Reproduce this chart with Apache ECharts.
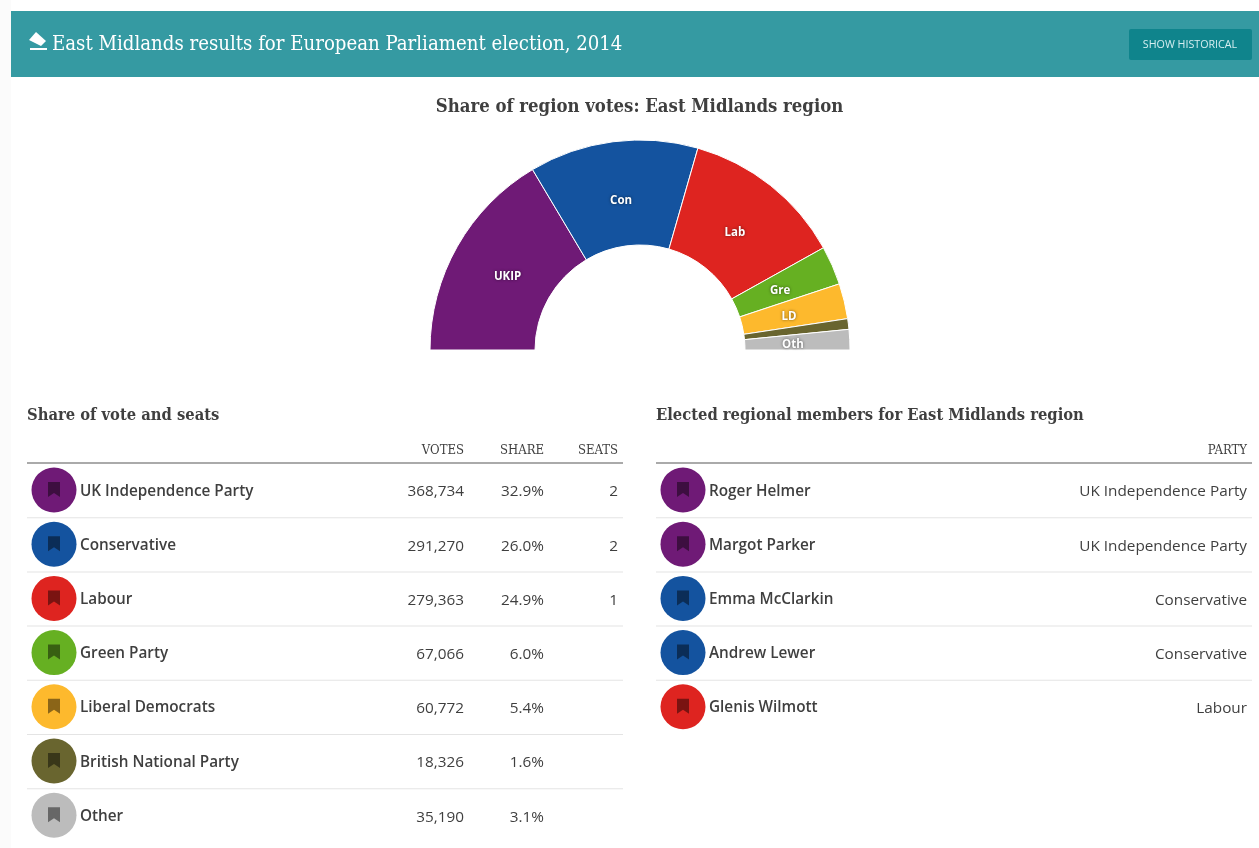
<!DOCTYPE html>
<html><head><meta charset="utf-8">
<style>html,body{margin:0;padding:0;background:#fff}#c{width:1259px;height:848px}</style>
<script src="https://cdn.jsdelivr.net/npm/echarts@6/dist/echarts.min.js"></script>
</head><body><div id="c"></div>
<script>
const parties = ['UK Independence Party','Conservative','Labour','Green Party','Liberal Democrats','British National Party','Other'];
const shortNames = ['UKIP','Con','Lab','Gre','LD','','Oth'];
const votes = [368734,291270,279363,67066,60772,18326,35190];
const shares = ['32.9%','26.0%','24.9%','6.0%','5.4%','1.6%','3.1%'];
const seats = ['2','2','1','','','',''];
const colors = ['#6f1a76','#14539f','#de2420','#66b022','#fdb92d','#69652f','#bcbcbc'];
const members = ['Roger Helmer','Margot Parker','Emma McClarkin','Andrew Lewer','Glenis Wilmott'];
const memberParties = ['UK Independence Party','UK Independence Party','Conservative','Conservative','Labour'];
const mainTitle = 'East Midlands results for European Parliament election, 2014';
const chartTitle = 'Share of region votes: East Midlands region';
const leftTitle = 'Share of vote and seats';
const rightTitle = 'Elected regional members for East Midlands region';

const SLAB = '"DejaVu Serif Condensed","DejaVu Serif",serif';
const SANS = '"Open Sans","Noto Sans",sans-serif';
const INK = '#3f3f3f';
const ROW = 54.2, ROW0 = 463;
const PIE_X = 640, PIE_Y = 350, LABEL_PULL = 0.05;
const g = [];
const T = (x,y,text,o={}) => g.push({type:'text',x,y:y+2,silent:true,style:Object.assign({
  text,fill:INK,font:`${o.w||400} ${o.s||15.3}px ${o.f||SANS}`,align:o.a||'left',verticalAlign:'middle'},o.st||{})});
const R = (x,y,w,h,fill,r) => g.push({type:'rect',silent:true,shape:{x,y,width:w,height:h,r:r||0},style:{fill}});
const bookmark = (cx,cy) => g.push({type:'polygon',silent:true,shape:{points:[[cx-6,cy-8],[cx+6,cy-8],[cx+6,cy+7],[cx,cy+3],[cx-6,cy+7]]},style:{fill:'rgba(0,0,0,0.45)'}});
const disc = (cx,cy,fill) => { g.push({type:'circle',silent:true,shape:{cx,cy,r:22.5},style:{fill}}); bookmark(cx,cy); };

// page chrome
R(0,0,11,848,'#fbfbfb');
R(11,11,1248,66,'#359aa2');
R(1129,29,123,31,'#0f848c',2);
T(1190,42.5,'SHOW HISTORICAL',{a:'center',s:10.7,st:{fill:'#d5eef0'}});
g.push({type:'polygon',silent:true,shape:{points:[[36,32],[46,41],[41,46],[29,40]]},style:{fill:'#fff'}});
R(30,48,17,2,'#fff');
T(52,43,mainTitle,{f:SLAB,s:20.2,st:{fill:'#fff'}});
T(639.5,105,chartTitle,{f:SLAB,w:700,s:18.4,a:'center'});
T(27,414,leftTitle,{f:SLAB,w:700,s:16.4});
T(656,414,rightTitle,{f:SLAB,w:700,s:16.4});

// left table
T(464,449,'VOTES',{a:'right',s:13,f:SLAB});
T(544,449,'SHARE',{a:'right',s:13,f:SLAB});
T(618,449,'SEATS',{a:'right',s:13,f:SLAB});
R(27,462,596,2,'#aaaaaa');
parties.forEach((p,i)=>{
  const cy = ROW0+27+i*ROW;
  disc(54,cy,colors[i]);
  T(80,cy-0.7,p,{w:600});
  T(464,cy,votes[i].toLocaleString('en-GB'),{a:'right'});
  T(544,cy,shares[i],{a:'right'});
  T(618,cy,seats[i],{a:'right'});
  if(i<parties.length-1) R(27,ROW0+(i+1)*ROW,596,1,'#e4e4e4');
});

// right table
T(1247,449,'PARTY',{a:'right',s:13,f:SLAB});
R(656,462,596,2,'#aaaaaa');
members.forEach((m,i)=>{
  const cy = ROW0+27+i*ROW;
  disc(683,cy,colors[parties.indexOf(memberParties[i])]);
  T(709,cy-0.7,m,{w:600});
  T(1247,cy,memberParties[i],{a:'right'});
  if(i<members.length-1) R(656,ROW0+(i+1)*ROW,596,1,'#e4e4e4');
});

const chart = echarts.init(document.getElementById('c'));
chart.setOption({
  animation:false,
  graphic:{elements:g},
  series:[{
    type:'pie',center:[PIE_X,PIE_Y],radius:[105,210],startAngle:180,endAngle:0,
    clockwise:true,silent:true,
    itemStyle:{borderColor:'#fff',borderWidth:1},
    label:{show:true,position:'inside',color:'#fff',fontFamily:SANS,fontWeight:700,fontSize:11.5,
      textShadowColor:'rgba(0,0,0,0.55)',textShadowBlur:3,formatter:p=>shortNames[p.dataIndex]},
    labelLine:{show:false},
    labelLayout:p=>({
      dx:(PIE_X-(p.rect.x+p.rect.width/2))*LABEL_PULL+0.5,
      dy:(PIE_Y-(p.rect.y+p.rect.height/2))*LABEL_PULL+2
    }),
    data:parties.map((name,i)=>({name,value:votes[i],itemStyle:{color:colors[i]}}))
  }]
});
</script></body></html>
